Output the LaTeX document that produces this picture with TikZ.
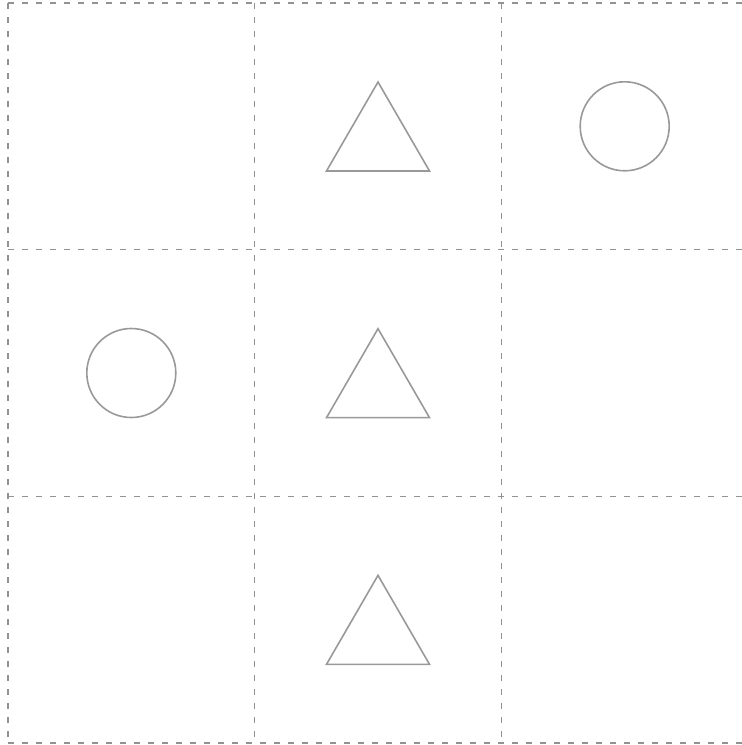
\documentclass[tikz,border=0pt]{standalone}
\begin{document}
\begin{tikzpicture}[x=1pt,y=-1pt,
  gridline/.style={draw=gray!85, line width=1.5pt, dash pattern=on 5.5pt off 8.5pt},
  shapeline/.style={draw=gray!80, line width=1.6pt, line join=miter}]
\useasboundingbox (0,0) rectangle (742,745);
\clip (0,0) rectangle (742,745);
% grid
\foreach \x in {8,254.67,501.33,748}
  \draw[gridline] (\x,3) -- (\x,743);
\foreach \y in {3,249.67,496.33,743}
  \draw[gridline] (8,\y) -- (748,\y);
% triangles in middle column
\foreach \r/\o in {0/0,1/246.67,2/493.33}{
  \draw[shapeline] (378,82+\o) -- (429.5,171+\o) -- (326.5,171+\o) -- cycle;
}
% circles
\node[shapeline, circle, minimum size=89pt, inner sep=0pt] (c1) at (624.7,126.3) {};
\node[shapeline, circle, minimum size=89pt, inner sep=0pt] (c2) at (131.3,373) {};
\end{tikzpicture}
\end{document}
